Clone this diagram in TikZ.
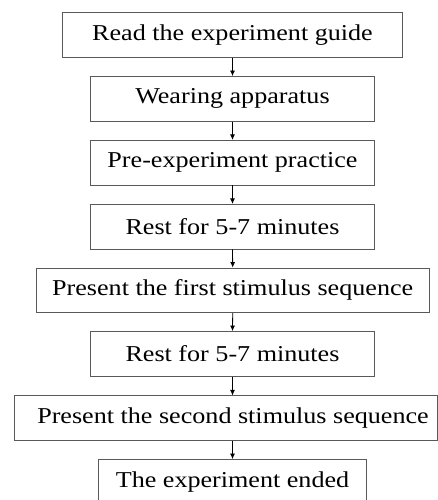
\documentclass[tikz,border=0pt]{standalone}
\usepackage{fontspec}
\setmainfont{Liberation Serif}[FakeStretch=1.15]
\usetikzlibrary{arrows.meta}
\begin{document}
\begin{tikzpicture}[x=1pt,y=-1pt,
  stepbox/.style={draw=black!65, line width=0.8pt, minimum height=44.7pt,
    inner sep=0pt, font=\fontsize{22.7}{27}\selectfont, text=black},
  flow/.style={draw=black, line width=0.8pt, -{Latex[length=5.5pt,width=5pt]}}]
\fill[white] (0,0) rectangle (438,500);
\useasboundingbox (0,0) rectangle (438,500);
\node[stepbox, minimum width=339.6pt] (b1) at (232.5,35.0) {Read the experiment guide};
\node[stepbox, minimum width=283.6pt] (b2) at (232.5,98.8) {Wearing apparatus};
\node[stepbox, minimum width=283.6pt] (b3) at (232.5,162.6) {Pre-experiment practice};
\node[stepbox, minimum width=283.6pt] (b4) at (232.5,226.6) {Rest for 5-7 minutes};
\node[stepbox, minimum width=392.7pt] (b5) at (232.7,290.3) {Present the first stimulus sequence};
\node[stepbox, minimum width=283.6pt] (b6) at (232.5,353.8) {Rest for 5-7 minutes};
\node[stepbox, minimum width=422.6pt] (b7) at (226.0,418.2) {\hspace*{14pt}Present the second stimulus sequence};
\node[stepbox, minimum width=268.4pt] (b8) at (232.5,481.8) {The experiment ended};
\draw[flow] (b1.south) -- (b2.north);
\draw[flow] (b2.south) -- (b3.north);
\draw[flow] (b3.south) -- (b4.north);
\draw[flow] (b4.south) -- (b5.north);
\draw[flow] (b5.south) -- (b6.north);
\draw[flow] (b6.south) -- (b7.north -| b6.south);
\draw[flow] (b7.south -| b8.north) -- (b8.north);
\end{tikzpicture}
\end{document}
